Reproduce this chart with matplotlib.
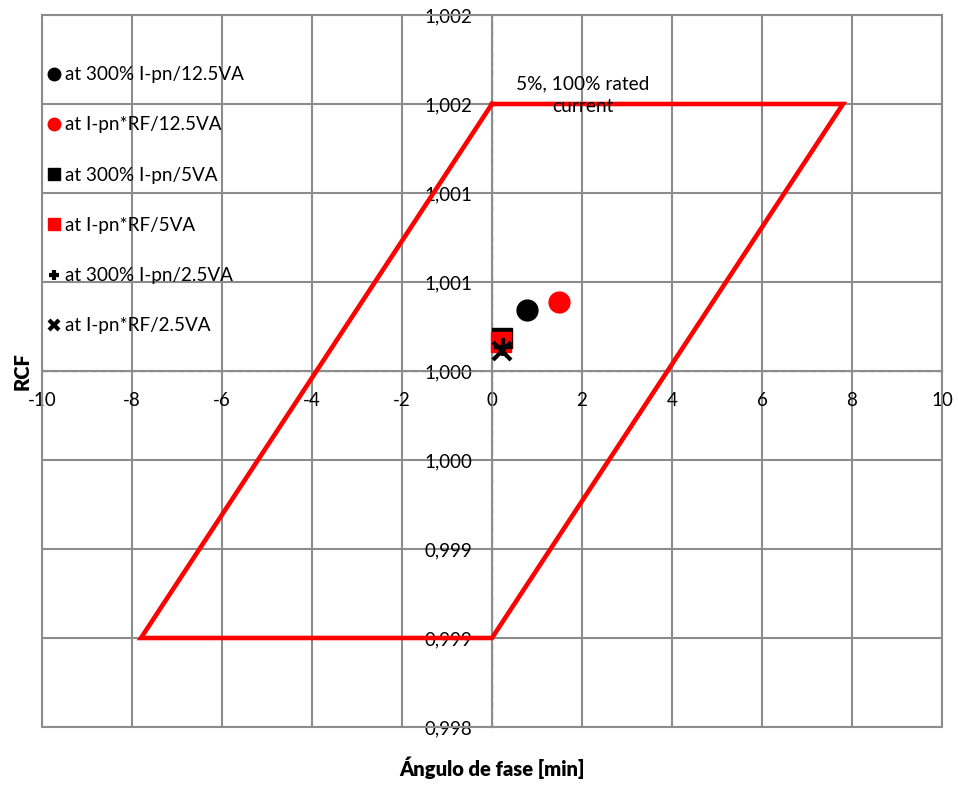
import matplotlib.pyplot as plt
from matplotlib.patches import Rectangle

plt.rcParams['font.family'] = ['Lato', 'DejaVu Sans']

# limit polygon (phase angle in min, ratio correction factor)
limit_x = [0.0, 7.8, 0.0, -7.8, 0.0]
limit_y = [1.0015, 1.0015, 0.9985, 0.9985, 1.0015]

# measured points
labels = ['at 300% I-pn/12.5VA', 'at I-pn*RF/12.5VA', 'at 300% I-pn/5VA',
          'at I-pn*RF/5VA', 'at 300% I-pn/2.5VA', 'at I-pn*RF/2.5VA']
phase = [0.78, 1.49, 0.22, 0.21, 0.24, 0.22]
rcf = [1.000345, 1.000388, 1.000185, 1.000161, 1.000135, 1.000115]
markers = ['o', 'o', 's', 's', '+', 'x']
colors = ['black', 'red', 'black', 'red', 'black', 'black']

xticks = [-10, -8, -6, -4, -2, 0, 2, 4, 6, 8, 10]
yticks = [0.998, 0.9985, 0.999, 0.9995, 1.0, 1.0005, 1.001, 1.0015, 1.002]
ytick_labels = ['0,998', '0,999', '0,999', '1,000', '1,000',
                '1,001', '1,001', '1,002', '1,002']

fig = plt.figure(figsize=(9.58, 7.85), dpi=100)
ax = fig.add_axes([0.0438, 0.0739, 0.9395, 0.907])

ax.plot(limit_x, limit_y, color='red', lw=3.3, solid_joinstyle='miter', zorder=3)

for x, y, m, c, lab in zip(phase, rcf, markers, colors, labels):
    if m in '+x':
        ax.plot(x, y, linestyle='none', marker=m, ms=13, mew=3, color=c,
                label=lab, zorder=4)
    else:
        ax.plot(x, y, linestyle='none', marker=m, ms=15, color=c,
                label=lab, zorder=4)

ax.set_xlim(-10, 10)
ax.set_ylim(0.998, 1.002)
ax.set_xticks(xticks)
ax.set_yticks(yticks)
ax.set_xticklabels([str(t) for t in xticks])
ax.set_yticklabels(ytick_labels)
ax.grid(True, color='#8c8c8c', lw=1.5)
ax.set_axisbelow(True)

# axes cross at the origin as dashed lines
for side in ['top', 'right']:
    ax.spines[side].set_visible(False)
ax.spines['left'].set_position(('data', 0))
ax.spines['bottom'].set_position(('data', 1.0))
for side in ['left', 'bottom']:
    ax.spines[side].set_color('#8c8c8c')
    ax.spines[side].set_linewidth(1.0)
    ax.spines[side].set_linestyle((0, (4, 3)))
    ax.spines[side].set_zorder(2.5)
ax.tick_params(axis='both', length=0, labelsize=13.5)
ax.tick_params(axis='x', pad=15)
ax.tick_params(axis='y', pad=14)

# outer frame
ax.add_patch(Rectangle((0, 0), 1, 1, transform=ax.transAxes, fill=False,
                       edgecolor='#8c8c8c', lw=1.5, clip_on=False, zorder=2))

ax.text(2.02, 1.00155, '5%, 100% rated\ncurrent', ha='center', va='center',
        fontsize=13.8, linespacing=1.35)

ax.legend(loc='upper left', bbox_to_anchor=(-0.005, 0.944), frameon=False,
          fontsize=13.6, markerscale=0.6, handlelength=0.5, handletextpad=0.35,
          borderaxespad=0.2, labelspacing=1.76)

fig.text(0.5136, 0.0217, 'Ángulo de fase [min]', ha='center', va='center',
         fontsize=14.5, fontweight='heavy')
ax.set_ylabel('RCF', fontsize=14.5, fontweight='heavy')
ax.yaxis.set_label_coords(-0.012, 0.5)

fig.savefig('out.png', dpi=100)
